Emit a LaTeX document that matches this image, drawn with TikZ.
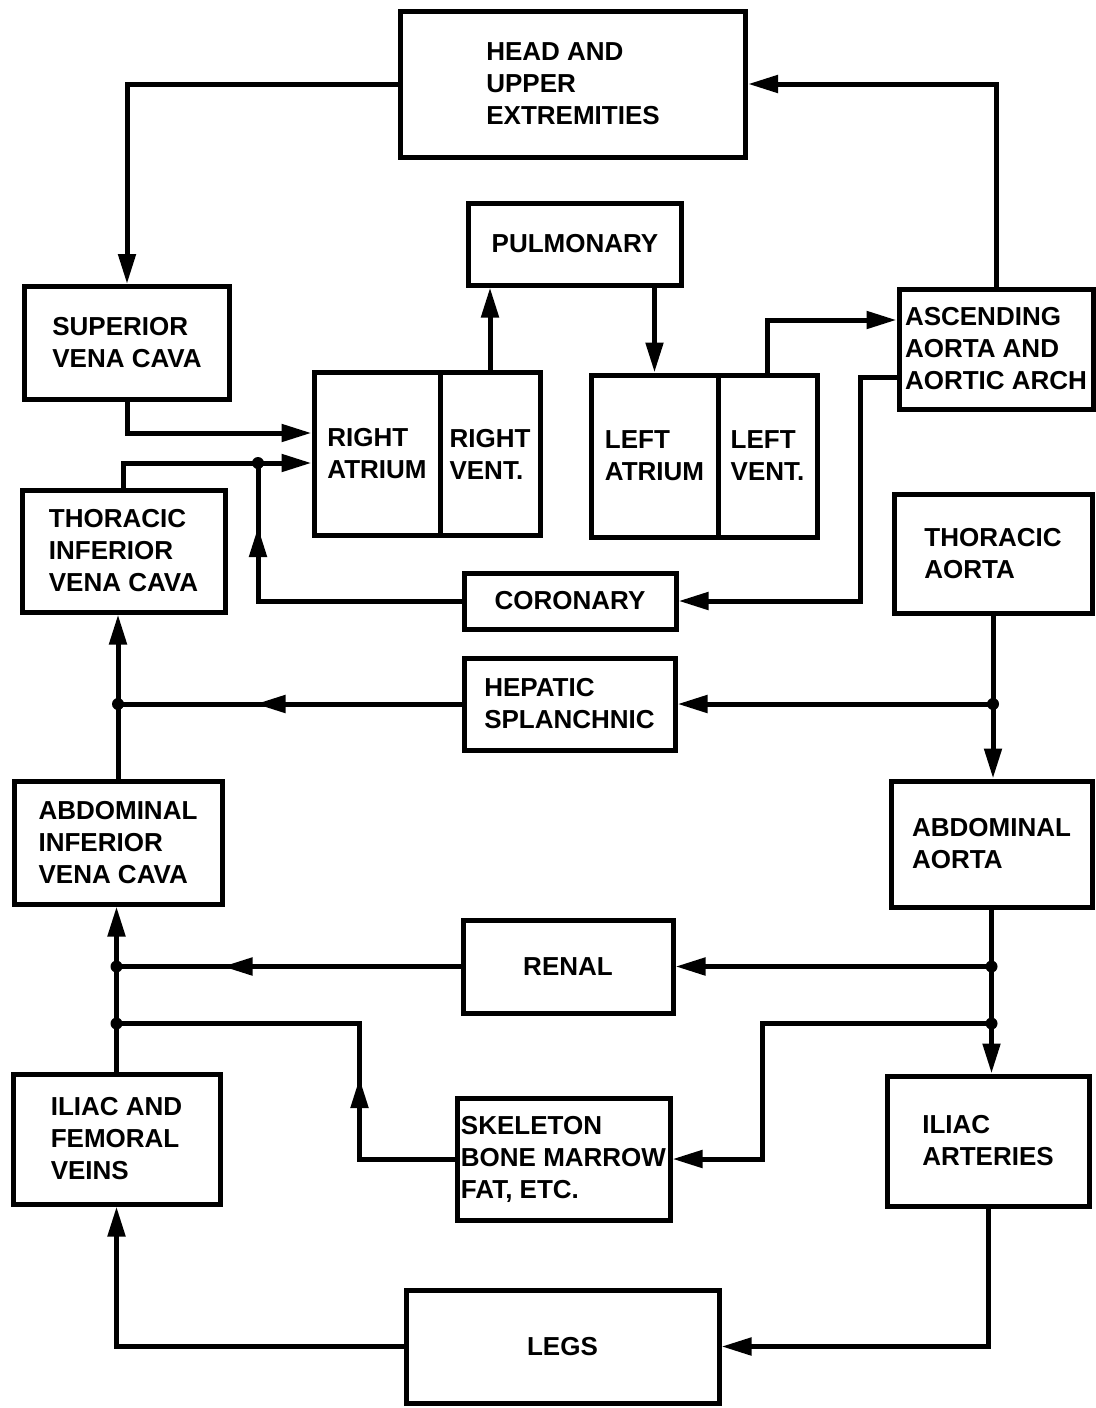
\documentclass[tikz,border=0pt]{standalone}
\usepackage{fontspec}
\setmainfont{Liberation Sans}
\usetikzlibrary{arrows.meta,decorations.markings}

\tikzset{
  organ/.style={draw, line width=5pt, inner sep=0pt, align=left,
    font=\bfseries\fontsize{26}{32}\selectfont},
  flow/.style={line width=5pt, -{Triangle[length=30pt,width=17pt]}},
  midflow/.style={line width=5pt, postaction={decorate},
    decoration={markings,
      mark=at position #1 with {\arrow{Triangle[length=30pt,width=17pt]}}}}
}

\begin{document}
\begin{tikzpicture}[x=1pt,y=-1pt]
  \useasboundingbox (0,0) rectangle (1095,1408);

  % boxes
  \node[organ, minimum width=345pt, minimum height=146pt] (head) at (573,84) {HEAD AND\\UPPER\\EXTREMITIES};
  \node[organ, minimum width=213pt, minimum height=82pt] (pulm) at (575,244) {PULMONARY};
  \node[organ, minimum width=205pt, minimum height=113pt] (svc) at (127,343) {SUPERIOR\\VENA CAVA};
  \node[organ, minimum width=194pt, minimum height=120pt] (asc) at (996,349) {ASCENDING\\AORTA AND\\AORTIC ARCH};
  \node[organ, minimum width=126pt, minimum height=163pt] (ra) at (377,454) {RIGHT\\ATRIUM};
  \node[organ, minimum width=100pt, minimum height=163pt] (rv) at (490,454) {RIGHT\\VENT.};
  \node[organ, minimum width=127pt, minimum height=162pt] (la) at (654.5,456) {LEFT\\ATRIUM};
  \node[organ, minimum width=99pt, minimum height=162pt] (lv) at (767.5,456) {LEFT\\VENT.};
  \node[organ, minimum width=203pt, minimum height=122pt] (tivc) at (123.5,551) {THORACIC\\INFERIOR\\VENA CAVA};
  \node[organ, minimum width=198pt, minimum height=119pt] (taorta) at (993,553.5) {THORACIC\\AORTA};
  \node[organ, minimum width=212pt, minimum height=56pt] (coron) at (570,601) {CORONARY};
  \node[organ, minimum width=211pt, minimum height=92pt] (hep) at (569.5,704) {HEPATIC\\SPLANCHNIC};
  \node[organ, minimum width=208pt, minimum height=123pt] (aivc) at (118,842.5) {ABDOMINAL\\INFERIOR\\VENA CAVA};
  \node[organ, minimum width=201pt, minimum height=126pt] (aaorta) at (991.5,844) {ABDOMINAL\\AORTA};
  \node[organ, minimum width=210pt, minimum height=93pt] (renal) at (568,966.5) {RENAL};
  \node[organ, minimum width=207pt, minimum height=130pt] (ifv) at (116.5,1139) {ILIAC AND\\FEMORAL\\VEINS};
  \node[organ, minimum width=213pt, minimum height=122pt] (skel) at (563.5,1159) {SKELETON\\BONE MARROW\\FAT, ETC.};
  \node[organ, minimum width=202pt, minimum height=130pt] (iart) at (988,1141) {ILIAC\\ARTERIES};
  \node[organ, minimum width=313pt, minimum height=113pt] (legs) at (562.5,1346.5) {LEGS};

  % branch points
  \coordinate (jra) at (258,463);
  \coordinate (jhepl) at (aivc.north |- hep.west);
  \coordinate (jhepr) at (taorta.south |- hep.east);
  \coordinate (jrenl) at (ifv.north |- renal.west);
  \coordinate (jrenr) at (aaorta.south |- renal.east);
  \coordinate (jskelr) at ([yshift=-57pt]jrenr);
  \coordinate (jskell) at (ifv.north |- jskelr);

  % heart and lungs
  \draw[flow] (head.west) -| (svc.north);
  \draw[flow] (asc.north) |- (head.east);
  \draw[flow] (rv.north) -- (rv.north |- pulm.south);
  \draw[flow] (la.north |- pulm.south) -- (la.north);
  \draw[flow] (lv.north) |- ([yshift=29pt]asc.west);
  \draw[flow] ([yshift=-28pt]asc.west) -- ++(-36,0) |- (coron.east);
  \draw[flow] (svc.south) |- ([yshift=21pt]ra.west);
  \draw[flow] (tivc.north) |- ([yshift=-9pt]ra.west);
  \draw[midflow=-64pt] (coron.west) -| (jra);

  % trunk
  \draw[flow] (taorta.south) -- (taorta.south |- aaorta.north);
  \draw[flow] (jhepr) -- (hep.east);
  \draw[midflow=206pt] (hep.west) -- (jhepl);
  \draw[flow] (aivc.north) -- (aivc.north |- tivc.south);
  \draw[flow] (aaorta.south) -- (aaorta.south |- iart.north);
  \draw[flow] (jrenr) -- (renal.east);
  \draw[midflow=238pt] (renal.west) -- (jrenl);
  \draw[flow] (jskelr) -- ++(-229,0) |- (skel.east);
  \draw[midflow=176pt] (skel.west) -- ++(-95,0) |- (jskell);
  \draw[flow] (ifv.north) -- (ifv.north |- aivc.south);

  % legs
  \draw[flow] (iart.south) |- (legs.east);
  \draw[flow] (legs.west) -| (ifv.south);

  \foreach \j in {jra,jhepl,jhepr,jrenl,jrenr,jskelr,jskell}
    \fill (\j) circle (6pt);
\end{tikzpicture}
\end{document}
